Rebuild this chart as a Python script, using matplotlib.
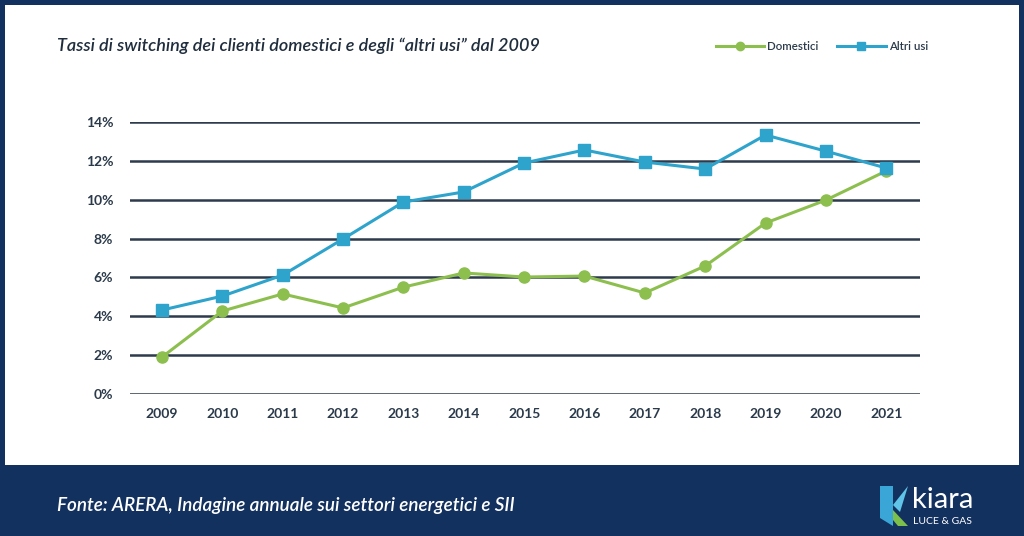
import matplotlib.pyplot as plt
from matplotlib.patches import Rectangle, Polygon
from matplotlib.ticker import FuncFormatter

years = list(range(2009, 2022))
domestici = [1.9, 4.27, 5.15, 4.43, 5.5, 6.23, 6.02, 6.07, 5.2, 6.59, 8.8, 9.98, 11.48]
altri_usi = [4.32, 5.04, 6.12, 7.98, 9.88, 10.4, 11.89, 12.56, 11.94, 11.58, 13.33, 12.5, 11.63]
y_ticks = [0, 2, 4, 6, 8, 10, 12, 14]

NAVY = "#13315f"
GREEN = "#8dbf4f"
BLUE = "#2ea3cc"
GRID = "#2d3b4c"

W, H = 1024, 536
fig = plt.figure(figsize=(W / 100, H / 100), dpi=100, facecolor=NAVY)

# white panel inside the navy frame
fig.patches.append(Rectangle((5 / W, 71 / H), 1014 / W, 460 / H,
                             transform=fig.transFigure, facecolor="white",
                             edgecolor="none", zorder=-5))

ax = fig.add_axes([130 / W, 142 / H, 790 / W, 272 / H])
ax.set_zorder(2)
ax.set_facecolor("none")
ax.set_xlim(2008.47, 2021.56)
ax.set_ylim(0, 14)
ax.set_yticks(y_ticks)
ax.set_xticks(years)
ax.yaxis.set_major_formatter(FuncFormatter(lambda v, p: f"{v:.0f}%"))
for v in y_ticks:
    ax.axhline(v, color=GRID, lw=1.8, zorder=1)
for s in ax.spines.values():
    s.set_visible(False)
ax.tick_params(length=0, labelsize=10, labelcolor="#2b3a4a")
ax.tick_params(axis="y", pad=12)
ax.tick_params(axis="x", pad=10)
for lab in ax.get_xticklabels() + ax.get_yticklabels():
    lab.set_fontfamily("Lato")
    lab.set_fontweight("bold")

ax.plot(years, domestici, color=GREEN, lw=2.2, marker="o", ms=8,
        label="Domestici", zorder=3, clip_on=False)
ax.plot(years, altri_usi, color=BLUE, lw=2.2, marker="s", ms=8,
        label="Altri usi", zorder=4, clip_on=False)

leg = fig.legend(loc="center", bbox_to_anchor=(822 / W, 1 - 47 / H), ncol=2,
                 frameon=False, prop={"family": "Lato", "size": 8.3,
                                      "weight": "semibold"},
                 handlelength=4.2, columnspacing=1.6, handletextpad=0.3,
                 markerscale=0.75)
for t in leg.get_texts():
    t.set_color("#2b3a4a")

fig.text(57 / W, 1 - 46 / H,
         "Tassi di switching dei clienti domestici e degli \u201caltri usi\u201d dal 2009",
         fontsize=13, fontstyle="italic", fontweight="semibold", family="Lato",
         color="#1f2d3d", va="center", ha="left")

fig.text(57 / W, 1 - 505 / H,
         "Fonte: ARERA, Indagine annuale sui settori energetici e SII",
         fontsize=13.6, fontstyle="italic", fontweight="semibold", family="Lato",
         color="white", va="center", ha="left")

# kiara logo
logo_blue = Polygon([(880 / W, 1 - 486 / H), (893 / W, 1 - 486 / H),
                     (893 / W, 1 - 526 / H), (880 / W, 1 - 518 / H)],
                    closed=True, transform=fig.transFigure,
                    facecolor="#3aa6d8", edgecolor="none")
logo_cyan = Polygon([(893 / W, 1 - 505 / H), (908 / W, 1 - 486 / H),
                     (900 / W, 1 - 512 / H)],
                    closed=True, transform=fig.transFigure,
                    facecolor="#5fc4e8", edgecolor="none")
logo_green = Polygon([(893 / W, 1 - 510 / H), (908 / W, 1 - 526 / H),
                      (898 / W, 1 - 526 / H), (893 / W, 1 - 520 / H)],
                     closed=True, transform=fig.transFigure,
                     facecolor="#7cc04b", edgecolor="none")
for p in (logo_blue, logo_cyan, logo_green):
    fig.patches.append(p)
fig.text(912 / W, 1 - 500 / H, "kiara", fontsize=21, family="Lato",
         color="white", va="center", ha="left")
fig.text(913 / W, 1 - 521 / H, "LUCE & GAS", fontsize=7.5, family="Lato",
         color="white", va="center", ha="left")

fig.savefig("out.png", dpi=100, facecolor=NAVY)
